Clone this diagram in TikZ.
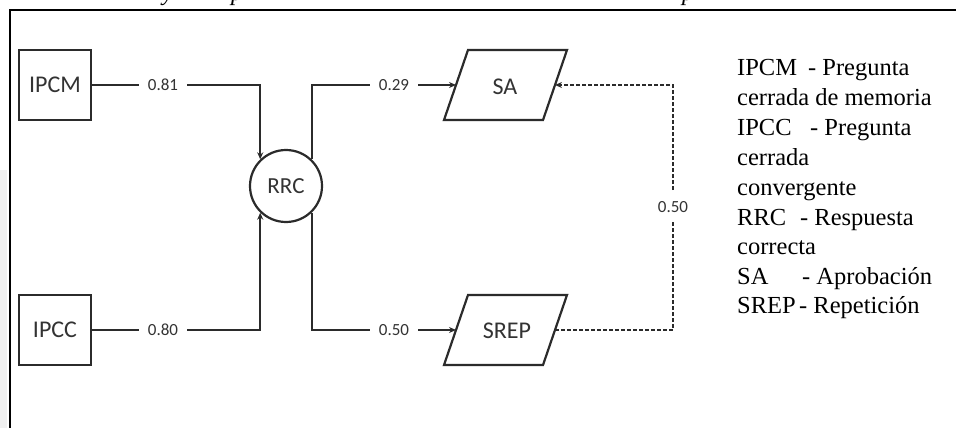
\documentclass[tikz,border=0pt]{standalone}
\usepackage{fontspec}
\setmainfont{Liberation Serif}
\newfontfamily\diagfont{Carlito}
\usetikzlibrary{arrows.meta}
\definecolor{lc}{HTML}{2B2B2B}
\definecolor{tc}{HTML}{333333}
\begin{document}
\begin{tikzpicture}[x=1pt,y=-1pt,
  ln/.style={draw=lc, line width=2.2pt},
  arr/.style={ln, -{Stealth[length=7pt,width=6pt]}},
  boxnode/.style={draw=lc, line width=2.2pt, minimum width=72pt, minimum height=70pt,
    font=\diagfont\fontsize{24}{28}\selectfont, text=tc, inner sep=0pt},
  shapetext/.style={font=\diagfont\fontsize{24}{28}\selectfont, text=tc, inner sep=0pt},
  wlabel/.style={fill=white, font=\diagfont\fontsize{17}{20}\selectfont, text=tc,
    inner xsep=9pt, inner ysep=1pt},
  vlabel/.style={fill=white, font=\diagfont\fontsize{17}{20}\selectfont, text=tc,
    inner xsep=2pt, inner ysep=9pt},
  legend/.style={anchor=base west, font=\fontsize{24.5}{30}\selectfont, inner sep=0pt},
  frag/.style={anchor=base, font=\itshape\fontsize{24}{28}\selectfont, inner sep=0pt}
]
\useasboundingbox (0,0) rectangle (956,428);
% page shadow on the left edge
\fill[black!6] (0,170) rectangle (7,428);
% cut-off title line (only descenders visible)
\begin{scope}
  \clip (0,0) rectangle (956,8);
  \node[frag] (t1) at (168,1) {y};
  \node[frag] (t2) at (237,1) {p};
  \node[frag] (t3) at (688,1) {p};
\end{scope}
% frame
\draw[line width=2.4pt, black] (10,432) -- (10,10) -- (960,10);

% nodes
\node[boxnode] (ipcm) at (55,85) {IPCM};
\node[boxnode] (ipcc) at (55,330) {IPCC};
\node[circle, draw=lc, line width=2.2pt, minimum size=72pt, inner sep=0pt,
  font=\diagfont\fontsize{23}{28}\selectfont, text=tc] (rrc) at (286,186) {RRC};

\draw[ln, line join=miter] (468,50) -- (567,50) -- (543,120) -- (444,120) -- cycle;
\node[shapetext] (sa) at (505,87) {SA};
\coordinate (sain) at (456,85);
\coordinate (saout) at (555,85);

\draw[ln, line join=miter] (468,295) -- (567,295) -- (543,365) -- (444,365) -- cycle;
\node[shapetext] (srep) at (507,331) {SREP};
\coordinate (srepin) at (456,330);
\coordinate (srepout) at (555,330);

% connectors
\draw[arr] (ipcm.east) -| (rrc.134);
\draw[arr] (ipcc.east) -| (rrc.226);
\draw[arr] (rrc.46) |- (sain);
\draw[arr] (rrc.-46) |- (srepin);
\coordinate (dc) at (673,207);
\draw[draw=lc, line width=2pt, dash pattern=on 4pt off 2pt,
  -{Stealth[length=7pt,width=6pt]}] (srepout) -| (dc) |- (saout);

% labels
\node[wlabel] (l1) at (163,85) {0.81};
\node[wlabel] (l2) at (163,330) {0.80};
\node[wlabel] (l3) at (394,85) {0.29};
\node[wlabel] (l4) at (394,330) {0.50};
\node[vlabel] (l5) at (dc) {0.50};

% legend
\node[legend] (g1) at (737,75)  {\makebox[71pt][l]{IPCM}- Pregunta};
\node[legend] (g2) at (737,105) {cerrada de memoria};
\node[legend] (g3) at (737,135) {\makebox[73pt][l]{IPCC}- Pregunta};
\node[legend] (g4) at (737,165) {cerrada};
\node[legend] (g5) at (737,195) {convergente};
\node[legend] (g6) at (737,225) {\makebox[63pt][l]{RRC}- Respuesta};
\node[legend] (g7) at (737,254) {correcta};
\node[legend] (g8) at (737,284) {\makebox[65pt][l]{SA}- Aprobación};
\node[legend] (g9) at (737,313) {\makebox[62pt][l]{SREP}- Repetición};
\end{tikzpicture}
\end{document}
